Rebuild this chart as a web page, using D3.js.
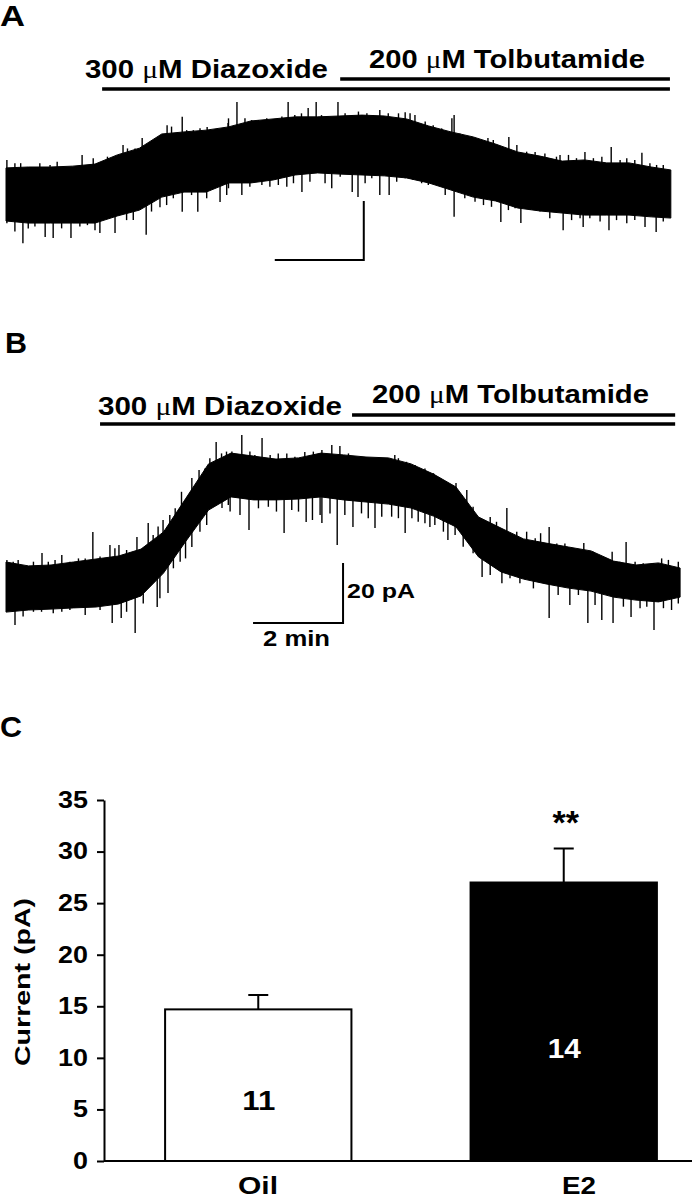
<!DOCTYPE html>
<html>
<head>
<meta charset="utf-8">
<script src="https://cdn.jsdelivr.net/npm/d3@7/dist/d3.min.js"></script>
<style>
	body { margin: 0; background: #fff; }
	svg { display: block; }
	text { font-family: "Liberation Sans", Arial, sans-serif; font-weight: bold; fill: #000; }
	.mu { font-family: "Liberation Serif", serif; font-weight: normal; }
</style>
</head>
<body>
<div id="chart"></div>
<script>
//trace A, time in min, current in pA (upper / lower edge of the noise band)
var aTime  = [0, 0.5, 1, 1.5, 2, 2.5, 3, 3.5, 4, 4.5, 5, 5.5, 6, 6.5, 7, 7.5, 8, 8.5, 9, 9.5, 10, 10.5, 11, 11.5, 12, 12.5, 13, 13.5, 14, 14.5, 14.94];
var aUpper = [18.0, 18.3, 18.3, 18.6, 19.3, 22.4, 24.7, 29.5, 30.2, 30.8, 31.9, 33.9, 34.6, 35.3, 35.3, 35.6, 35.9, 35.6, 34.6, 32.2, 30.2, 28.5, 26.1, 23.4, 22.0, 20.3, 20.7, 19.7, 19.7, 18.3, 17.3];
var aLower = [0, -0.7, -0.7, -0.7, -0.7, 1.7, 3.7, 8.1, 9.8, 9.8, 12.9, 12.9, 13.9, 15.6, 16.3, 15.9, 15.6, 15.3, 14.6, 12.9, 10.5, 8.1, 6.8, 4.4, 3.4, 2.7, 2.0, 2.0, 2.0, 1.4, 1.0];
//spikes sticking out of the band
var aUpTime = [0.02, 0.20, 0.33, 0.76, 0.99, 1.15, 1.71, 1.96, 2.28, 2.45, 2.63, 2.73, 2.90, 3.06, 3.27, 3.39, 3.62, 3.72, 3.96, 4.06, 4.21, 4.36, 4.52, 4.66, 4.81, 4.99,
				5.0, 5.19, 5.37, 5.52, 5.67, 5.86, 6.04, 6.20, 6.34, 6.49, 6.64, 6.79, 6.97, 7.09, 7.24, 7.46, 7.62, 7.77, 7.92, 8.11, 8.25, 8.40, 8.59, 8.82, 8.97, 9.08, 9.19, 9.42, 9.60, 9.79, 10.02,
				10.07, 10.20, 10.35, 10.54, 10.83, 10.95, 11.30, 11.48, 11.70, 11.89, 12.11, 12.37, 12.45, 12.64, 12.82, 13.01, 13.20, 13.39, 13.60, 13.80, 13.95, 14.13, 14.29, 14.47, 14.62, 14.77];
var aUpPeak = [20.7, 19.6, 19.6, 19.6, 19.0, 20.1, 22.4, 21.3, 21.8, 21.8, 25.8, 24.6, 24.6, 28.1, 26.9, 27.5, 32.5, 32.0, 35.3, 30.8, 30.8, 31.4, 31.9, 30.3, 30.3, 33.2,
				34.8, 40.3, 34.8, 34.2, 34.2, 34.8, 34.2, 35.4, 40.3, 35.9, 36.5, 38.3, 40.3, 35.9, 35.4, 40.3, 36.5, 35.9, 37.1, 36.5, 35.9, 37.6, 36.5, 36.5, 36.9, 36.5, 35.9, 33.7, 32.5, 31.4, 34.8,
				35.9, 29.7, 28.6, 27.5, 28.1, 27.5, 28.5, 25.8, 23.5, 23.4, 22.9, 21.8, 22.4, 22.4, 21.3, 23.4, 21.3, 21.8, 25.1, 20.7, 21.3, 20.7, 23.1, 19.6, 19.0, 19.0];
var aDownTime = [0.02, 0.20, 0.38, 0.50, 0.65, 0.88, 1.06, 1.25, 1.46, 1.66, 1.83, 2.0, 2.11, 2.45, 2.71, 2.86, 3.15, 3.27, 3.46, 3.61, 3.76, 3.96, 4.17, 4.31, 4.51, 4.81, 4.96,
				5.0, 5.30, 5.48, 5.75, 5.93, 6.12, 6.31, 6.46, 6.65, 6.83, 7.17, 7.32, 7.51, 7.78, 7.91, 8.07, 8.22, 8.40, 8.61, 8.78, 8.97, 9.15, 9.34, 9.49, 9.68, 9.87,
				10.07, 10.31, 10.54, 10.73, 10.91, 11.12, 11.29, 11.44, 11.57, 11.78, 12.0, 12.22, 12.52, 12.71, 12.90, 12.97, 13.12, 13.35, 13.55, 13.72, 13.95, 14.13, 14.36, 14.61, 14.77];
var aDownPeak = [-0.8, -3.6, -7.5, -2.5, -1.9, -5.4, -5.8, -2.5, -5.8, -1.9, -1.4, -3.1, -4.1, -4.1, 0.3, 0.3, -4.7, 3.2, 4.7, 5.4, 7.7, 3.1, 8.8, 3.1, 7.7, 6.4, 8.8,
				11.1, 8.8, 11.6, 12.2, 11.6, 12.2, 11.6, 12.8, 9.8, 13.3, 12.8, 11.1, 15.0, 9.8, 8.1, 12.8, 14.5, 8.8, 8.8, 13.3, 14.5, 13.9, 12.8, 12.2, 12.2, 8.8,
				1.4, 7.7, 6.5, 5.4, 4.8, -0.3, 3.7, 4.3, -0.7, 3.7, 3.2, 0.9, -3.1, 0.3, 0.9, -2.0, 0.9, -0.2, -3.1, 0.3, -0.8, 0.3, -2.0, -3.7, -0.2];

//trace B
var bTime  = [0, 0.5, 1, 1.5, 2, 2.5, 3, 3.5, 4, 4.5, 5, 5.5, 6, 6.5, 7, 7.5, 8, 8.5, 9, 9.5, 10, 10.5, 11, 11.5, 12, 12.5, 13, 13.5, 14, 14.5, 14.98];
var bUpper = [16.0, 14.7, 15.0, 16.0, 17.0, 18.0, 20.3, 26.0, 37.3, 48.7, 52.3, 51.3, 50.3, 50.7, 52.3, 51.7, 51.0, 50.7, 48.7, 45.3, 41.0, 31.0, 27.3, 23.7, 22.3, 21.0, 19.7, 16.3, 15.0, 15.7, 14.0];
var bLower = [-0.7, 0, 0.3, 0.7, 1.0, 2.0, 4.7, 12.3, 23.0, 33.3, 37.7, 36.7, 36.7, 37.0, 37.7, 36.7, 36.0, 35.3, 34.0, 31.3, 27.7, 17.7, 12.7, 10.3, 8.7, 7.3, 6.3, 4.3, 3.3, 2.7, 4.3];
var bUpTime = [0.02, 0.16, 0.27, 0.61, 0.80, 0.94, 1.09, 1.24, 1.42, 1.61, 1.76, 1.93, 2.09, 2.31, 2.42, 2.51, 2.68, 2.91, 3.02, 3.16, 3.27, 3.38, 3.49, 3.64, 3.76, 3.90, 4.13, 4.29, 4.42, 4.53, 4.67, 4.79, 4.90,
				5.02, 5.24, 5.42, 5.53, 5.69, 5.87, 6.05, 6.24, 6.42, 6.64, 6.83, 7.02, 7.24, 7.42, 7.61, 7.98, 8.16, 8.38, 8.64, 8.72, 8.90, 9.09, 9.31, 9.50, 9.68, 9.90,
				10.0, 10.13, 10.24, 10.38, 10.53, 10.76, 10.90, 11.13, 11.35, 11.57, 11.76, 11.88, 12.07, 12.24, 12.42, 12.61, 12.84, 13.05, 13.24, 13.47, 13.64, 13.78, 13.98, 14.16, 14.39, 14.57, 14.72, 14.94];
var bUpPeak = [16.7, 16.1, 16.7, 16.1, 19.0, 16.1, 16.7, 18.3, 16.1, 17.2, 17.2, 26.0, 17.8, 21.7, 20.6, 21.7, 20.0, 24.3, 19.4, 29.0, 25.0, 27.8, 30.0, 31.7, 33.9, 39.4, 44.0, 46.7, 47.2, 50.6, 56.0, 52.2, 52.8,
				52.8, 58.3, 52.8, 51.7, 57.3, 51.7, 52.2, 52.2, 51.1, 52.7, 52.8, 53.3, 55.0, 54.7, 52.2, 50.6, 49.4, 50.6, 51.7, 50.6, 49.4, 48.3, 47.2, 45.6, 43.3, 40.6,
				42.3, 38.3, 40.0, 34.4, 30.6, 31.0, 29.4, 34.0, 26.1, 26.1, 23.9, 25.6, 27.7, 22.2, 22.2, 20.6, 22.3, 19.4, 17.2, 19.4, 16.1, 22.7, 16.1, 15.6, 15.6, 17.2, 16.7, 16.1];
var bDownTime = [0.05, 0.20, 0.38, 0.61, 0.79, 1.05, 1.24, 1.42, 1.76, 1.94, 2.09, 2.36, 2.56, 2.68, 2.87, 3.05, 3.36, 3.42, 3.60, 3.72, 3.87, 3.99, 4.13, 4.31, 4.46, 4.64, 4.80, 4.94,
				4.98, 5.20, 5.40, 5.61, 5.83, 6.01, 6.18, 6.35, 6.50, 6.67, 6.81, 6.98, 7.02, 7.20, 7.36, 7.53, 7.71, 7.90, 8.05, 8.20, 8.35, 8.57, 8.72, 8.87, 9.02, 9.16, 9.31, 9.42, 9.53, 9.72, 9.82,
				9.98, 10.16, 10.38, 10.58, 10.76, 11.02, 11.20, 11.42, 11.72, 12.07, 12.27, 12.53, 12.72, 12.93, 13.09, 13.24, 13.49, 13.72, 13.89, 14.09, 14.24, 14.40, 14.61, 14.79, 14.94];
var bDownPeak = [0.6, -5.0, -2.2, -0.6, -0.6, -1.1, -0.6, 0, -1.7, 1.1, 0, -4.3, -2.7, -0.6, -7.7, 2.2, 1.0, 3.9, 5.7, 13.9, 16.1, 17.2, 21.0, 26.1, 28.3, 35.6, 34.0, 35.0,
				32.8, 31.7, 26.7, 33.9, 34.4, 32.8, 25.7, 33.3, 32.8, 29.3, 30.0, 31.7, 29.0, 32.2, 21.7, 31.7, 27.7, 32.2, 30.6, 27.3, 31.1, 31.1, 30.6, 25.7, 30.6, 29.4, 28.9, 27.7, 28.3, 26.1, 23.3,
				25.0, 21.1, 18.9, 11.0, 11.7, 8.9, 10.6, 8.9, 7.2, -2.7, 5.0, 1.7, 5.0, -4.3, 1.7, -3.3, -4.3, 1.1, -2.3, 0.6, 1.1, -6.7, 0.6, 0, 2.2];

//drug application (min)
var drugNames = ["300 \u03bcM Diazoxide", "200 \u03bcM Tolbutamide"];
var aDrugStart = [2.16, 7.51];
var aDrugEnd = 14.92;
var bDrugStart = [2.09, 7.69];
var bDrugEnd = 14.87;
var scaleBarMin = 2;
var scaleBarPA = 20;

//bar chart C
var groups = ["Oil", "E2"];
var means = [14.7, 27.0];
var sems = [1.4, 3.3];
var nCells = [11, 14];
var yTicks = [0, 5, 10, 15, 20, 25, 30, 35];

var svg = d3.select("#chart")
			.append("svg")
			.attr("width", 694)
			.attr("height", 1199);

//text helper, stretched to the measured width
function label(txt, x, y, size, len) {
	var t = svg.append("text")
		.attr("x", x)
		.attr("y", y)
		.attr("font-size", size);
	var parts = txt.split("\u03bc");
	if(parts.length > 1) {
		t.append("tspan").text(parts[0]);
		t.append("tspan").attr("class", "mu").text("\u03bc");
		t.append("tspan").text(parts[1]);
	} else {
		t.text(txt);
	}
	if(len) {
		t.attr("textLength", len).attr("lengthAdjust", "spacingAndGlyphs");
	}
	return t;
}

//spike lines from the middle of the band out to the peak
function spikes(times, peaks, x, y, mid) {
	svg.append("g")
		.selectAll("line")
		.data(times)
		.enter()
		.append("line")
		.attr("x1", function(d) { return x(d); })
		.attr("x2", function(d) { return x(d); })
		.attr("y1", function(d) { return y(mid(d)); })
		.attr("y2", function(d, i) { return y(peaks[i]); })
		.attr("stroke", "#000")
		.attr("stroke-width", 1.4);
}

//draw one trace panel
function tracePanel(time, upper, lower, upT, upP, downT, downP, x, y) {
	var area = d3.area()
		.x(function(d, i) { return x(time[i]); })
		.y0(function(d, i) { return y(lower[i]); })
		.y1(function(d, i) { return y(upper[i]); });

	svg.append("path")
		.datum(time)
		.attr("d", area)
		.attr("fill", "#000")
		.attr("stroke", "#000")
		.attr("stroke-width", 1);

	var mid = d3.scaleLinear()
		.domain(time)
		.range(time.map(function(d, i) { return (upper[i] + lower[i]) / 2; }));

	spikes(upT, upP, x, y, mid);
	spikes(downT, downP, x, y, mid);
}

//panel A
var aX = d3.scaleLinear().domain([0, 2]).range([6, 95]);
var aY = d3.scaleLinear().domain([0, 20]).range([221, 162]);
tracePanel(aTime, aUpper, aLower, aUpTime, aUpPeak, aDownTime, aDownPeak, aX, aY);

svg.append("line").attr("x1", aX(aDrugStart[0])).attr("x2", aX(aDrugEnd)).attr("y1", 89).attr("y2", 89)
	.attr("stroke", "#000").attr("stroke-width", 3.3);
svg.append("line").attr("x1", aX(aDrugStart[1])).attr("x2", aX(aDrugEnd)).attr("y1", 79).attr("y2", 79)
	.attr("stroke", "#000").attr("stroke-width", 3.3);
label(drugNames[0], 85, 78, 25.5, 243);
label(drugNames[1], 369, 68, 25, 276);
label("A", 0, 26, 30, 25);

//scale bar A (no labels)
svg.append("path")
	.attr("d", "M" + aX(8.04 - scaleBarMin) + "," + aY(-13.2) + "H" + aX(8.04) + "V" + aY(-13.2 + scaleBarPA))
	.attr("fill", "none").attr("stroke", "#000").attr("stroke-width", 2);

//panel B
var bX = d3.scaleLinear().domain([0, 2]).range([6, 96]);
var bY = d3.scaleLinear().domain([0, 20]).range([610, 550]);
tracePanel(bTime, bUpper, bLower, bUpTime, bUpPeak, bDownTime, bDownPeak, bX, bY);

svg.append("line").attr("x1", bX(bDrugStart[0])).attr("x2", bX(bDrugEnd)).attr("y1", 424).attr("y2", 424)
	.attr("stroke", "#000").attr("stroke-width", 3.3);
svg.append("line").attr("x1", bX(bDrugStart[1])).attr("x2", bX(bDrugEnd)).attr("y1", 415).attr("y2", 415)
	.attr("stroke", "#000").attr("stroke-width", 3.3);
label(drugNames[0], 98, 415, 25.5, 244);
label(drugNames[1], 372, 403, 25, 277);
label("B", 5, 353, 30, 22);

svg.append("path")
	.attr("d", "M" + bX(7.49 - scaleBarMin) + "," + bY(-4.3) + "H" + bX(7.49) + "V" + bY(-4.3 + scaleBarPA))
	.attr("fill", "none").attr("stroke", "#000").attr("stroke-width", 2);
label(scaleBarPA + " pA", 347, 598, 21, 68);
label(scaleBarMin + " min", 263, 646, 22, 67);

//panel C
label("C", 0, 737, 30, 22);

var x = d3.scaleBand()
	.domain(groups)
	.range([104, 718])
	.paddingInner(0.39)
	.paddingOuter(0.2);
var y = d3.scaleLinear().domain([0, 35]).range([1161, 800]);

var yAxis = svg.append("g")
	.attr("transform", "translate(104,0)")
	.call(d3.axisLeft(y).tickValues(yTicks).tickSize(7).tickSizeOuter(0));
yAxis.selectAll("path, line").attr("stroke", "#000").attr("stroke-width", 2);
yAxis.selectAll("text")
	.attr("x", -16 / 1.17)
	.attr("transform", "scale(1.17,1)")
	.attr("font-size", 23)
	.attr("font-family", "Liberation Sans, Arial, sans-serif")
	.attr("font-weight", "bold")
	.attr("fill", "#000");

//bars
svg.selectAll("rect.bar")
	.data(means)
	.enter()
	.append("rect")
	.attr("class", "bar")
	.attr("x", function(d, i) { return x(groups[i]); })
	.attr("y", function(d) { return y(d); })
	.attr("width", x.bandwidth())
	.attr("height", function(d) { return y(0) - y(d); })
	.attr("fill", function(d, i) { return i == 0 ? "#fff" : "#000"; })
	.attr("stroke", "#000")
	.attr("stroke-width", 2);

//error bars and n inside the bars
means.forEach(function(m, i) {
	var cx = x(groups[i]) + x.bandwidth() / 2;
	svg.append("path")
		.attr("d", "M" + cx + "," + y(m) + "V" + y(m + sems[i]) + "M" + (cx - 10) + "," + y(m + sems[i]) + "H" + (cx + 10))
		.attr("stroke", "#000").attr("stroke-width", 2).attr("fill", "none");
	svg.append("text")
		.attr("x", cx - 16)
		.attr("y", i == 0 ? y(5) + 1 : y(10))
		.attr("font-size", 27)
		.attr("textLength", 33)
		.attr("lengthAdjust", "spacingAndGlyphs")
		.style("fill", i == 0 ? "#000" : "#fff")
		.text(nCells[i]);
});

//baseline
svg.append("line").attr("x1", 104).attr("x2", 692).attr("y1", y(0)).attr("y2", y(0))
	.attr("stroke", "#000").attr("stroke-width", 2);

//significance
svg.append("text")
	.attr("x", x("E2") + x.bandwidth() / 2 + 2)
	.attr("y", 834)
	.attr("text-anchor", "middle")
	.attr("font-size", 34)
	.text("**");

//category labels
label(groups[0], 238, 1194, 23, 40);
label(groups[1], 562, 1194, 23, 34);

//y title
svg.append("text")
	.attr("transform", "translate(30,982) rotate(-90)")
	.attr("x", -84)
	.attr("font-size", 22)
	.attr("textLength", 168)
	.attr("lengthAdjust", "spacingAndGlyphs")
	.text("Current (pA)");
</script>
</body>
</html>
